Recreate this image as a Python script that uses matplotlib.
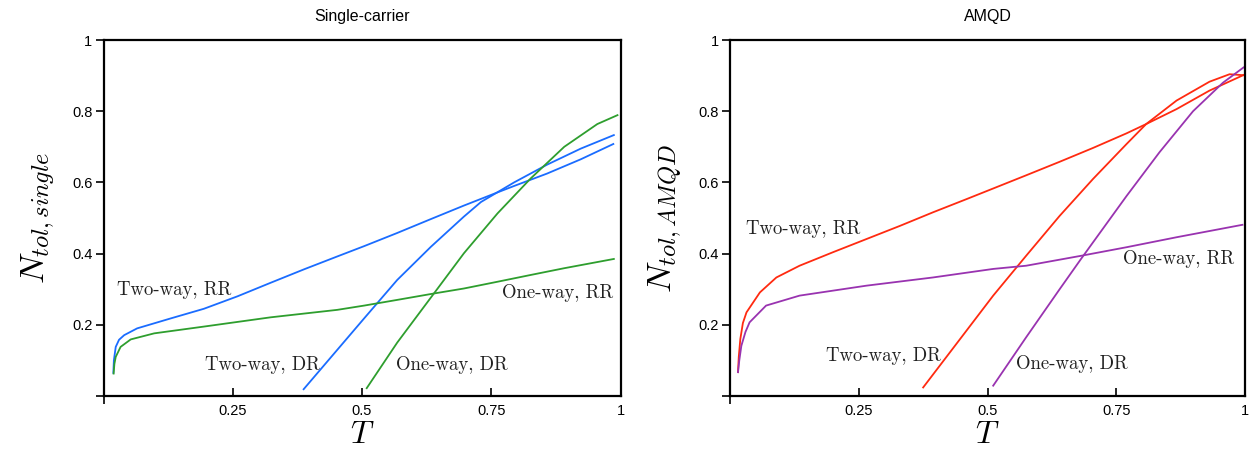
import matplotlib.pyplot as plt

plt.rcParams['mathtext.fontset'] = 'cm'
plt.rcParams['font.family'] = ['Liberation Sans', 'DejaVu Sans']

# Single-carrier panel
sc_two_rr_x = [0.019, 0.020, 0.0236, 0.030, 0.040, 0.065, 0.130, 0.194, 0.259, 0.323, 0.388, 0.452, 0.504,
               0.568, 0.633, 0.697, 0.762, 0.794, 0.858, 0.923, 0.986]
sc_two_rr_y = [0.065, 0.10, 0.138, 0.158, 0.171, 0.190, 0.218, 0.245, 0.280, 0.318, 0.356, 0.392, 0.421,
               0.458, 0.497, 0.535, 0.572, 0.590, 0.625, 0.665, 0.708]
sc_two_dr_x = [0.387, 0.504, 0.568, 0.633, 0.697, 0.730, 0.794, 0.858, 0.923, 0.987]
sc_two_dr_y = [0.019, 0.218, 0.326, 0.419, 0.504, 0.545, 0.600, 0.650, 0.695, 0.733]
sc_one_rr_x = [0.0195, 0.021, 0.0236, 0.033, 0.0526, 0.098, 0.194, 0.323, 0.452, 0.504, 0.568, 0.639, 0.697,
               0.762, 0.826, 0.891, 0.987]
sc_one_rr_y = [0.063, 0.09, 0.110, 0.138, 0.159, 0.176, 0.195, 0.221, 0.242, 0.254, 0.270, 0.288, 0.302,
               0.321, 0.340, 0.359, 0.385]
sc_one_dr_x = [0.509, 0.568, 0.639, 0.697, 0.762, 0.826, 0.891, 0.955, 0.994]
sc_one_dr_y = [0.022, 0.150, 0.288, 0.401, 0.513, 0.611, 0.700, 0.764, 0.789]

# AMQD panel
aq_two_rr_x = [0.0155, 0.017, 0.020, 0.025, 0.032, 0.058, 0.090, 0.135, 0.200, 0.265, 0.330, 0.394, 0.459,
               0.511, 0.575, 0.640, 0.705, 0.770, 0.808, 0.867, 0.931, 0.999]
aq_two_rr_y = [0.067, 0.11, 0.160, 0.205, 0.235, 0.291, 0.333, 0.366, 0.404, 0.441, 0.478, 0.516, 0.553,
               0.583, 0.620, 0.658, 0.697, 0.738, 0.764, 0.806, 0.858, 0.903]
aq_two_dr_x = [0.375, 0.511, 0.575, 0.640, 0.705, 0.770, 0.808, 0.867, 0.931, 0.970, 0.999]
aq_two_dr_y = [0.024, 0.282, 0.394, 0.506, 0.610, 0.708, 0.764, 0.830, 0.883, 0.904, 0.901]
aq_one_rr_x = [0.0155, 0.018, 0.022, 0.030, 0.038, 0.070, 0.135, 0.265, 0.394, 0.511, 0.575, 0.682, 0.770,
               0.867, 0.995]
aq_one_rr_y = [0.067, 0.10, 0.141, 0.180, 0.207, 0.254, 0.282, 0.310, 0.333, 0.357, 0.366, 0.394, 0.418,
               0.446, 0.481]
aq_one_dr_x = [0.511, 0.575, 0.640, 0.682, 0.770, 0.834, 0.899, 0.957, 0.997]
aq_one_dr_y = [0.029, 0.165, 0.300, 0.386, 0.562, 0.685, 0.800, 0.880, 0.923]

x_ticks = [0.25, 0.5, 0.75, 1]
x_tick_labels = ['0.25', '0.5', '0.75', '1']
y_ticks = [0.2, 0.4, 0.6, 0.8, 1]
y_tick_labels = ['0.2', '0.4', '0.6', '0.8', '1']

BLUE = '#1a6cff'
GREEN = '#2e9e2e'
RED = '#ff2a10'
PURPLE = '#9933b0'

fig = plt.figure(figsize=(12.58, 4.5), dpi=100)
ax1 = fig.add_axes([0.0823, 0.12, 0.411, 0.791])
ax2 = fig.add_axes([0.5803, 0.12, 0.4094, 0.791])


def style(ax, title, ylabel):
    ax.set_xlim(0, 1)
    ax.set_ylim(0, 1)
    for sp in ax.spines.values():
        sp.set_linewidth(1.6)
    ax.set_xticks(x_ticks)
    ax.set_xticklabels(x_tick_labels)
    ax.set_yticks([0] + y_ticks)
    ax.set_yticklabels([''] + y_tick_labels)
    ax.tick_params(axis='x', direction='in', length=6, width=1.2, labelsize=10.5, pad=6)
    ax.tick_params(axis='y', direction='out', length=6, width=1.2, labelsize=10.5, pad=2)
    ax.set_xticks([0], minor=True)
    ax.tick_params(axis='x', which='minor', direction='out', length=6, width=1.2)
    ax.set_title(title, fontsize=11.5, pad=14)
    ax.set_xlabel(r'$T$', fontsize=23, labelpad=1)
    ax.set_ylabel(ylabel, fontsize=25, labelpad=10)


def label(ax, x, y, s, ha='left'):
    ax.text(x, y, s, fontsize=13.5, family='cmr10', ha=ha, va='center', color='#222222')


ax1.plot(sc_two_rr_x, sc_two_rr_y, color=BLUE, lw=1.3)
ax1.plot(sc_two_dr_x, sc_two_dr_y, color=BLUE, lw=1.3)
ax1.plot(sc_one_rr_x, sc_one_rr_y, color=GREEN, lw=1.3)
ax1.plot(sc_one_dr_x, sc_one_dr_y, color=GREEN, lw=1.3)
style(ax1, 'Single-carrier', r'$N_{tol,single}$')
label(ax1, 0.027, 0.298, 'Two-way, RR')
label(ax1, 0.986, 0.290, 'One-way, RR', ha='right')
label(ax1, 0.196, 0.087, 'Two-way, DR')
label(ax1, 0.565, 0.087, 'One-way, DR')

ax2.plot(aq_two_rr_x, aq_two_rr_y, color=RED, lw=1.3)
ax2.plot(aq_two_dr_x, aq_two_dr_y, color=RED, lw=1.3)
ax2.plot(aq_one_rr_x, aq_one_rr_y, color=PURPLE, lw=1.3)
ax2.plot(aq_one_dr_x, aq_one_dr_y, color=PURPLE, lw=1.3)
style(ax2, 'AMQD', r'$N_{tol,AMQD}$')
label(ax2, 0.032, 0.469, 'Two-way, RR')
label(ax2, 0.980, 0.385, 'One-way, RR', ha='right')
label(ax2, 0.186, 0.113, 'Two-way, DR')
label(ax2, 0.556, 0.090, 'One-way, DR')

fig.savefig('out.png', dpi=100)
